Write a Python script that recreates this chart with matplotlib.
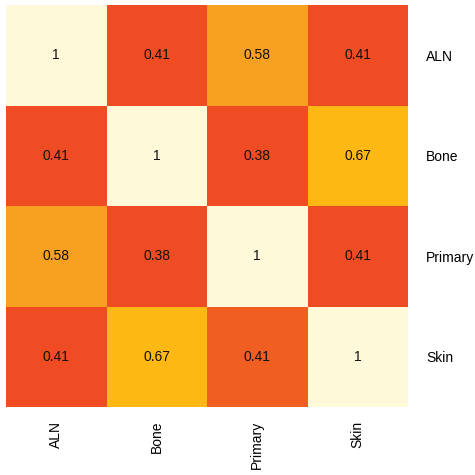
import numpy as np
import matplotlib
matplotlib.use("Agg")
import matplotlib.pyplot as plt
from matplotlib.colors import ListedColormap, BoundaryNorm

plt.rcParams['font.family'] = ['Liberation Sans', 'DejaVu Sans']

# correlation matrix between sample groups
groups = ["ALN", "Bone", "Primary", "Skin"]
corr = np.array([
    [1.00, 0.406, 0.58, 0.406],
    [0.406, 1.00, 0.38, 0.67],
    [0.58, 0.38, 1.00, 0.406],
    [0.406, 0.67, 0.414, 1.00],
])

# binned colour scale
bounds = [0.0, 0.41, 0.5, 0.62, 0.8, 1.01]
colors = ["#F04C23", "#F15E22", "#F8A01F", "#FDB813", "#FEF9D8"]
cmap = ListedColormap(colors)
norm = BoundaryNorm(bounds, cmap.N)

fig = plt.figure(figsize=(4.75, 4.75), dpi=100)
ax = fig.add_axes([6 / 475, 1 - 407 / 475, 402 / 475, 402 / 475])
ax.pcolormesh(corr, cmap=cmap, norm=norm)
ax.set_xlim(0, len(groups))
ax.set_ylim(len(groups), 0)

for i in range(len(groups)):
    for j in range(len(groups)):
        ax.text(j + 0.5, i + 0.5, f"{corr[i, j]:.2g}", ha="center", va="center",
                fontsize=10, color="#111111")

ax.set_xticks(np.arange(len(groups)) + 0.5)
ax.set_xticklabels(groups, rotation=90, fontsize=10, va="top")
ax.set_yticks(np.arange(len(groups)) + 0.5)
ax.set_yticklabels(groups, fontsize=10)
ax.yaxis.tick_right()
ax.tick_params(axis="x", length=0, pad=10)
ax.tick_params(axis="y", length=0, pad=13)
for s in ax.spines.values():
    s.set_visible(False)

fig.savefig("out.png", dpi=100)
